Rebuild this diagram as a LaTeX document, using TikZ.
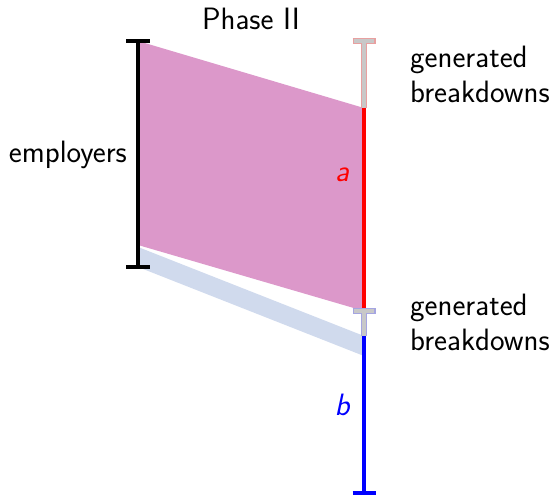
\documentclass[tikz,border=0pt]{standalone}
\usepackage{fontspec}
\setmainfont{Latin Modern Sans}
\usetikzlibrary{calc}
\definecolor{pinkfill}{RGB}{220,152,202}
\definecolor{bandblue}{RGB}{208,218,237}
\definecolor{segred}{RGB}{255,0,0}
\definecolor{segblue}{RGB}{0,0,255}
\definecolor{graymid}{RGB}{200,200,200}
\definecolor{rededge}{RGB}{232,160,160}
\definecolor{blueedge}{RGB}{165,165,225}
\tikzset{
  lbl/.style={font=\fontsize{31}{35}\selectfont, inner sep=0pt},
  blackbar/.style={line width=3.5pt, black},
  redbar/.style={line width=4pt, segred},
  bluebar/.style={line width=4pt, segblue},
  grayedge/.style={line width=6pt},
  grayin/.style={line width=3.5pt, graymid},
}
\begin{document}
\begin{tikzpicture}[x=1bp,y=-1bp]
\useasboundingbox (0,0) rectangle (553,495);
% coordinates
\coordinate (LT) at (138,41);
\coordinate (LB) at (138,267);
\coordinate (LM) at (138,245);
\coordinate (LN) at (138,247);
\coordinate (RT) at (364,41);
\coordinate (RA) at (364,108);
\coordinate (RB) at (364,311);
\coordinate (RC) at (364,336);
\coordinate (RD) at (364,356);
\coordinate (RE) at (364,493);
% fills
\fill[bandblue] (LN) -- (RC) -- (RD) -- (LB) -- cycle;
\fill[pinkfill] (LT) -- (RA) -- (RB) -- (LM) -- cycle;
% left bar
\draw[blackbar] (LT) -- (LB);
\draw[blackbar] ($(LT)+(-12,0)$) -- ($(LT)+(12,0)$);
\draw[blackbar] ($(LB)+(-12,0)$) -- ($(LB)+(12,0)$);
% right bar: top gray segment
\draw[grayedge, rededge] (RT) -- (RA);
\draw[grayedge, rededge] ($(RT)+(-11.5,0)$) -- ($(RT)+(11.5,0)$);
\draw[grayin] ($(RT)+(-10,0)$) -- ($(RT)+(10,0)$);
\draw[grayin] ($(RT)+(0,1)$) -- (RA);
% red segment
\draw[redbar] (RA) -- (RB);
% middle gray segment
\draw[grayedge, blueedge] (RB) -- (RC);
\draw[grayedge, blueedge] ($(RB)+(-11.5,0)$) -- ($(RB)+(11.5,0)$);
\draw[grayin] ($(RB)+(-10,0)$) -- ($(RB)+(10,0)$);
\draw[grayin] ($(RB)+(0,1)$) -- (RC);
% blue segment
\draw[bluebar] (RC) -- (RE);
\draw[bluebar] ($(RE)+(-11.5,0)$) -- ($(RE)+(11.5,0)$);
% labels
\node[lbl] (phase) at (251,19) {Phase II};
\node[lbl, anchor=east] (emp) at (127,155) {employers};
\node[lbl, anchor=west, align=left] (gen1) at (410,74) {generated\\breakdowns};
\node[lbl, anchor=west, align=left] (gen2) at (410,322) {generated\\breakdowns};
\node[lbl, text=segred] (la) at (342,175) {\itshape a};
\node[lbl, text=segblue] (lb) at (342,405) {\itshape b};
\end{tikzpicture}
\end{document}
